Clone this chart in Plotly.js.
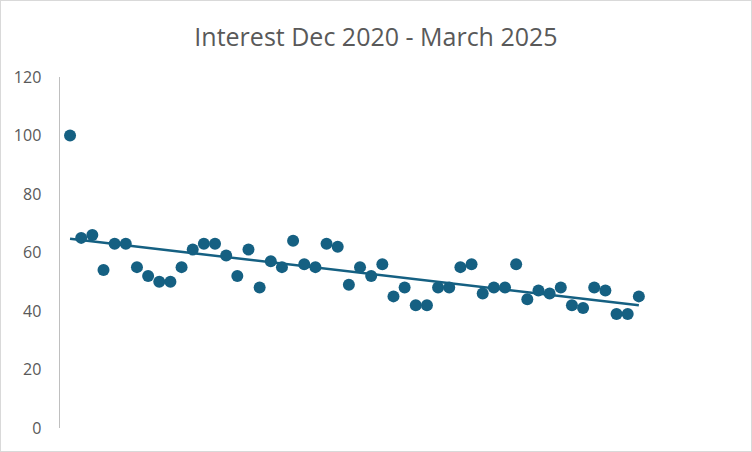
<!DOCTYPE html>
<html>
<head>
<meta charset="utf-8">
<script src="https://cdn.plot.ly/plotly-3.0.1.min.js"></script>
<style>
html,body{margin:0;padding:0;background:#fff;}
#chart{width:752px;height:452px;box-sizing:border-box;border:1px solid #d9d9d9;}
</style>
</head>
<body>
<div id="chart"></div>
<script>
// Monthly index, Dec 2020 .. March 2025
const months = Array.from({length: 52}, (_, i) => i + 1);
const interest = [100, 65, 66, 54, 63, 63, 55, 52, 50, 50, 55, 61, 63, 63, 59, 52, 61, 48, 57, 55,
                  64, 56, 55, 63, 62, 49, 55, 52, 56, 45, 48, 42, 42, 48, 48, 55, 56, 46, 48, 48,
                  56, 44, 47, 46, 48, 42, 41, 48, 47, 39, 39, 45];
const yTicks = [0, 20, 40, 60, 80, 100, 120];
const chartTitle = 'Interest Dec 2020 - March 2025';

// Linear trend fitted on the whole series
const tx = months, ty = interest;
const n = tx.length;
const mx = tx.reduce((a, b) => a + b, 0) / n, my = ty.reduce((a, b) => a + b, 0) / n;
let sxy = 0, sxx = 0;
for (let i = 0; i < n; i++) { sxy += (tx[i] - mx) * (ty[i] - my); sxx += (tx[i] - mx) ** 2; }
const slope = sxy / sxx, icpt = my - slope * mx;
const trendX = [tx[0], tx[n - 1]];
const trendY = trendX.map(x => icpt + slope * x);

const color = '#156082';
const data = [
  {x: trendX, y: trendY, mode: 'lines', type: 'scatter', line: {color: color, width: 2.5}, hoverinfo: 'skip'},
  {x: months, y: interest, mode: 'markers', type: 'scatter', marker: {color: color, size: 12}}
];
const layout = {
  width: 750, height: 450,
  margin: {l: 59, r: 101, t: 76, b: 23},
  paper_bgcolor: '#fff', plot_bgcolor: '#fff',
  showlegend: false,
  title: {text: chartTitle, x: 0.5, xanchor: 'center', y: 0.92, yanchor: 'middle',
          font: {family: 'Open Sans, sans-serif', size: 25, color: '#595959'}},
  xaxis: {range: [0.1, 53], showticklabels: false, showgrid: false, zeroline: false, showline: false, ticks: ''},
  yaxis: {range: [0, 120], tickvals: yTicks, ticktext: yTicks.map(String), showgrid: false, zeroline: false,
          showline: true, linecolor: '#bfbfbf', linewidth: 1.5, ticks: '', ticklabelstandoff: 14,
          tickfont: {family: 'Open Sans, sans-serif', size: 16, color: '#595959'}}
};
Plotly.newPlot('chart', data, layout, {displayModeBar: false, staticPlot: true});
</script>
</body>
</html>
